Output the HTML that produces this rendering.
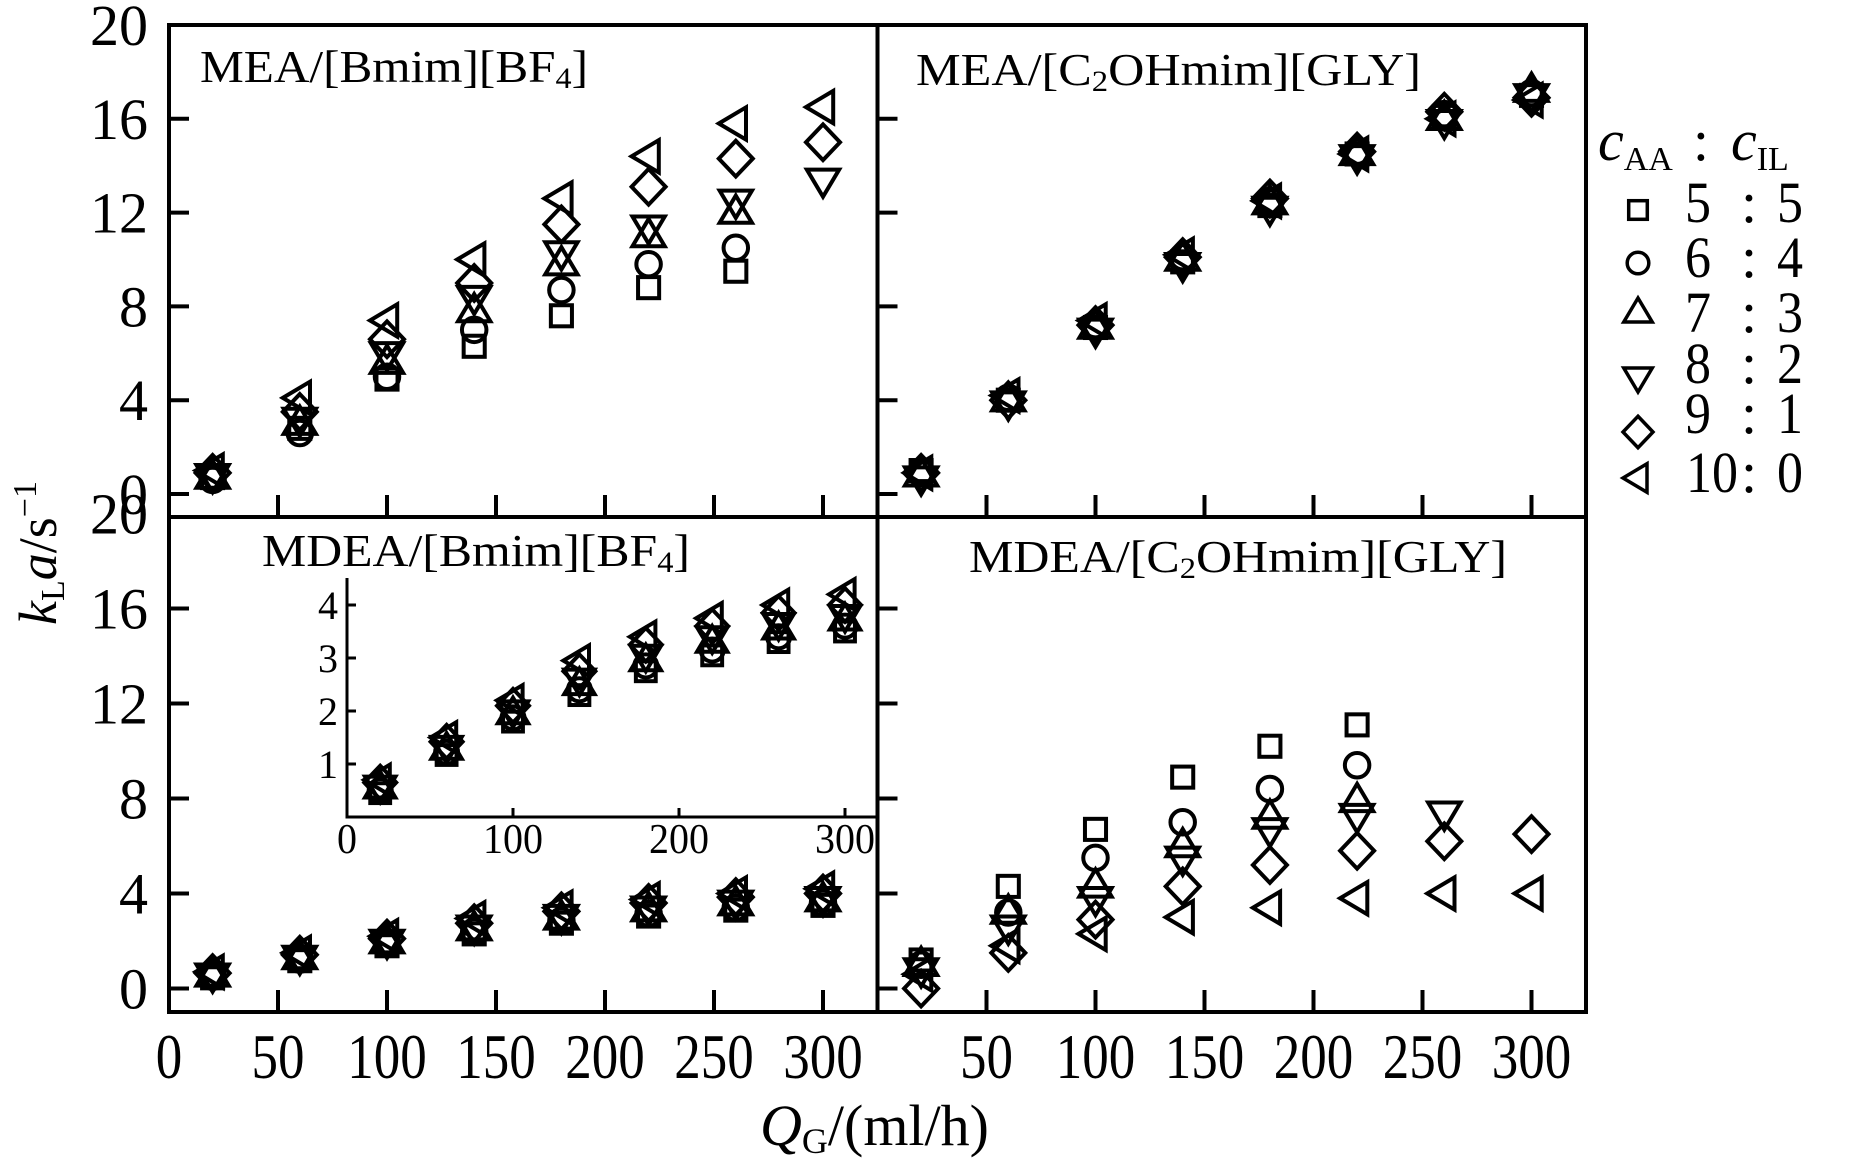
<!DOCTYPE html>
<html><head><meta charset="utf-8"><style>
html,body{margin:0;padding:0;background:#fff}
svg{display:block}
text{font-family:"Liberation Serif",serif;fill:#000}
</style></head><body>
<svg id="chart" width="1849" height="1165" viewBox="0 0 1849 1165" xmlns="http://www.w3.org/2000/svg">
<rect width="1849" height="1165" fill="#fff"/>
<g id="marks"></g>
<g id="frame" fill="none" stroke="#000" stroke-width="4">
<rect x="169" y="25" width="1417" height="987"/>
<line x1="877.5" y1="25" x2="877.5" y2="1012"/>
<line x1="169" y1="517" x2="1586" y2="517"/>
</g>
<g id="labels">
<text x="200" y="82" font-size="46" textLength="388" lengthAdjust="spacingAndGlyphs">MEA/[Bmim][BF<tspan font-size="30" dy="6">4</tspan><tspan dy="-6">]</tspan></text>
<text x="916" y="85" font-size="46" textLength="505" lengthAdjust="spacingAndGlyphs">MEA/[C<tspan font-size="30" dy="6">2</tspan><tspan dy="-6">OHmim][GLY]</tspan></text>
<text x="262" y="566" font-size="46" textLength="428" lengthAdjust="spacingAndGlyphs">MDEA/[Bmim][BF<tspan font-size="30" dy="6">4</tspan><tspan dy="-6">]</tspan></text>
<text x="969" y="572" font-size="46" textLength="538" lengthAdjust="spacingAndGlyphs">MDEA/[C<tspan font-size="30" dy="6">2</tspan><tspan dy="-6">OHmim][GLY]</tspan></text>
<text transform="translate(56,625) rotate(-90)" font-size="54"><tspan font-style="italic">k</tspan><tspan font-size="34" dy="8">L</tspan><tspan dy="-8" font-style="italic">a</tspan><tspan>/s</tspan><tspan font-size="34" dy="-20">−1</tspan></text>
<text x="760" y="1145" font-size="58"><tspan font-style="italic">Q</tspan><tspan font-size="36" dy="8">G</tspan><tspan dy="-8">/(ml/h)</tspan></text>
</g>
<g id="legend"></g>
</svg>
<script>
const xValues = [20, 60, 100, 140, 180, 220, 260, 300];
const seriesNames = ['5:5', '6:4', '7:3', '8:2', '9:1', '10:0'];
const markerTypes = ['square', 'circle', 'up', 'down', 'diamond', 'left'];
const yTicks = [0, 4, 8, 12, 16, 20];
const xTicks = [50, 100, 150, 200, 250, 300];
const insetXTicks = [100, 200, 300];
const insetYTicks = [1, 2, 3, 4];
// MEA/[Bmim][BF4]
const meaBmimSq = [0.7, 2.8, 4.9, 6.3, 7.6, 8.8, 9.5, null];
const meaBmimCi = [0.6, 2.6, 5.0, 7.0, 8.7, 9.8, 10.5, null];
const meaBmimUp = [0.7, 3.0, 5.6, 7.8, 9.8, 11.0, 12.0, null];
const meaBmimDown = [0.8, 3.2, 6.0, 8.4, 10.3, 11.4, 12.5, 13.4];
const meaBmimDia = [0.9, 3.5, 6.6, 9.0, 11.5, 13.1, 14.3, 15.0];
const meaBmimLeft = [1.0, 4.1, 7.4, 10.0, 12.6, 14.4, 15.8, 16.5];
// MEA/[C2OHmim][GLY]
const meaGlySq = [1.0, 4.0, 7.1, 9.9, 12.3, 14.5, 16.1, 17.0];
const meaGlyCi = [0.9, 4.1, 7.2, 10.1, 12.5, 14.6, 16.2, 17.1];
const meaGlyUp = [0.8, 4.0, 7.1, 10.0, 12.4, 14.5, 16.0, 17.2];
const meaGlyDown = [0.7, 3.9, 7.0, 9.8, 12.2, 14.4, 15.9, 17.0];
const meaGlyDia = [0.9, 4.0, 7.2, 10.1, 12.6, 14.6, 16.3, 16.9];
const meaGlyLeft = [0.9, 4.2, 7.4, 10.2, 12.5, 14.5, 16.0, 16.8];
// MDEA/[Bmim][BF4]
const mdeaBmimSq = [0.45, 1.17, 1.8, 2.3, 2.75, 3.05, 3.3, 3.5];
const mdeaBmimCi = [0.5, 1.22, 1.87, 2.4, 2.85, 3.15, 3.4, 3.6];
const mdeaBmimUp = [0.55, 1.28, 1.95, 2.5, 2.95, 3.3, 3.55, 3.72];
const mdeaBmimDown = [0.58, 1.33, 2.0, 2.6, 3.05, 3.4, 3.65, 3.8];
const mdeaBmimDia = [0.65, 1.42, 2.1, 2.75, 3.25, 3.6, 3.85, 4.0];
const mdeaBmimLeft = [0.7, 1.5, 2.2, 2.95, 3.4, 3.75, 4.0, 4.2];
// MDEA/[C2OHmim][GLY]
const mdeaGlySq = [1.2, 4.3, 6.7, 8.9, 10.2, 11.1, null, null];
const mdeaGlyCi = [1.0, 3.2, 5.5, 7.0, 8.4, 9.4, null, null];
const mdeaGlyUp = [1.0, 3.2, 4.3, 6.0, 7.2, 7.9, null, null];
const mdeaGlyDown = [0.8, 2.6, 3.8, 5.5, 6.7, 7.3, 7.4, null];
const mdeaGlyDia = [0.0, 1.5, 2.9, 4.3, 5.2, 5.8, 6.2, 6.5];
const mdeaGlyLeft = [0.6, 1.8, 2.3, 3.0, 3.4, 3.8, 4.0, 4.0];

const NS = 'http://www.w3.org/2000/svg';
const marks = document.getElementById('marks');
const legend = document.getElementById('legend');
const labels = document.getElementById('labels');

function mk(tag, attrs, parent) {
  const e = document.createElementNS(NS, tag);
  for (const k in attrs) e.setAttribute(k, attrs[k]);
  parent.appendChild(e);
  return e;
}
function marker(type, cx, cy, s, parent, sw) {
  const st = {fill: 'none', stroke: '#000', 'stroke-width': sw};
  let e;
  if (type === 'square') e = mk('rect', Object.assign({x: cx - s * 0.62, y: cy - s * 0.62, width: s * 1.24, height: s * 1.24}, st), parent);
  else if (type === 'circle') e = mk('circle', Object.assign({cx: cx, cy: cy, r: s * 0.72}, st), parent);
  else {
    let p;
    const r = s;
    if (type === 'up') p = [[cx, cy - r], [cx + r * 0.95, cy + r * 0.6], [cx - r * 0.95, cy + r * 0.6]];
    else if (type === 'down') p = [[cx, cy + r], [cx + r * 0.95, cy - r * 0.6], [cx - r * 0.95, cy - r * 0.6]];
    else if (type === 'left') p = [[cx - r, cy], [cx + r * 0.6, cy - r * 0.95], [cx + r * 0.6, cy + r * 0.95]];
    else p = [[cx, cy - r * 1.05], [cx + r * 1.0, cy], [cx, cy + r * 1.05], [cx - r * 1.0, cy]];
    e = mk('polygon', Object.assign({points: p.map(q => q.join(',')).join(' ')}, st), parent);
  }
  return e;
}
function txt(s, x, y, size, anchor, parent, len) {
  const t = mk('text', {x: x, y: y, 'font-size': size, 'text-anchor': anchor}, parent);
  if (len) { t.setAttribute('textLength', len); t.setAttribute('lengthAdjust', 'spacingAndGlyphs'); }
  t.textContent = s;
  return t;
}

const panels = [
  {x0: 169, zeroY: 494, ky: 23.45, series: [meaBmimSq, meaBmimCi, meaBmimUp, meaBmimDown, meaBmimDia, meaBmimLeft], name: 'mea-bmim'},
  {x0: 877.5, zeroY: 494, ky: 23.45, series: [meaGlySq, meaGlyCi, meaGlyUp, meaGlyDown, meaGlyDia, meaGlyLeft], name: 'mea-c2ohmim'},
  {x0: 169, zeroY: 988.5, ky: 23.75, series: [mdeaBmimSq, mdeaBmimCi, mdeaBmimUp, mdeaBmimDown, mdeaBmimDia, mdeaBmimLeft], name: 'mdea-bmim'},
  {x0: 877.5, zeroY: 988.5, ky: 23.75, series: [mdeaGlySq, mdeaGlyCi, mdeaGlyUp, mdeaGlyDown, mdeaGlyDia, mdeaGlyLeft], name: 'mdea-c2ohmim'}
];
const KX = 2.18;
const ticks = mk('g', {stroke: '#000', 'stroke-width': 4}, marks);


panels.forEach((P, pi) => {
  const xs = v => P.x0 + v * KX;
  const ys = v => P.zeroY - v * P.ky;
  const bottom = pi < 2 ? 517 : 1012;
  yTicks.forEach(v => {
    if (v === 20 && pi >= 2) return;
    mk('line', {x1: P.x0, y1: ys(v), x2: P.x0 + 20, y2: ys(v)}, ticks);
  });
  xTicks.forEach(v => mk('line', {x1: xs(v), y1: bottom, x2: xs(v), y2: bottom - 22}, ticks));
  if (pi === 0 || pi === 2) {
    yTicks.forEach(v => {
      const t = txt(String(v), 148, ys(v) + 20, 58, 'end', labels, v >= 10 ? 58 : 29);
      
      
    });
  }
  if (pi >= 2) {
    const xl = pi === 2 ? [0].concat(xTicks) : xTicks;
    xl.forEach(v => {
      const s = String(v);
      const t = txt(s, xs(v), 1078, 64, 'middle', labels, s.length * 26.5);
      
      
    });
  }
  const g = mk('g', {}, marks);
  
  
  P.series.forEach((arr, si) => {
    arr.forEach((v, i) => {
      if (v === null) return;
      const m = marker(markerTypes[si], xs(xValues[i]), ys(v), 17, g, 4);
      
      
    });
  });
});

// inset
const IX0 = 347, IY0 = 817, IKX = 1.66, IKY = 53;
const inset = mk('g', {}, marks);


const ix = v => IX0 + v * IKX;
const iy = v => IY0 - v * IKY;
const insetAxes = mk('path', {d: 'M' + IX0 + ',578 L' + IX0 + ',' + IY0 + ' L877,' + IY0, fill: 'none', stroke: '#000', 'stroke-width': 3}, inset);


insetYTicks.forEach(v => {
  mk('line', {x1: IX0, y1: iy(v), x2: IX0 + 9, y2: iy(v), stroke: '#000', 'stroke-width': 3}, inset);
  const t = txt(String(v), 338, iy(v) + 14, 40, 'end', inset, 20);
  
  
});
insetXTicks.forEach(v => {
  mk('line', {x1: ix(v), y1: IY0, x2: ix(v), y2: IY0 - 9, stroke: '#000', 'stroke-width': 3}, inset);
});
[0, 100, 200, 300].forEach(v => {
  const s = String(v);
  const t = txt(s, ix(v), 853, 42, 'middle', inset, s.length * 20);
  
  
});
[mdeaBmimSq, mdeaBmimCi, mdeaBmimUp, mdeaBmimDown, mdeaBmimDia, mdeaBmimLeft].forEach((arr, si) => {
  arr.forEach((v, i) => {
    const m = marker(markerTypes[si], ix(xValues[i]), iy(v), 16, inset, 4);
    
    
  });
});

// legend
const head = mk('text', {x: 1598, y: 160, 'font-size': 58}, legend);


head.innerHTML = '<tspan font-style="italic">c</tspan><tspan font-size="34" dy="10">AA</tspan><tspan dy="-10" dx="20">:</tspan><tspan dx="22" font-style="italic">c</tspan><tspan font-size="34" dy="10">IL</tspan>';
const legCenters = [210, 263, 313, 377, 432, 478];
const legBase = [222, 277, 332, 383, 433, 492];
const leftNums = ['5', '6', '7', '8', '9', '10'];
const rightNums = ['5', '4', '3', '2', '1', '0'];
markerTypes.forEach((t, i) => {
  const row = mk('g', {}, legend);
  
  
  marker(t, 1638, legCenters[i], 15, row, 3.5);
  txt(leftNums[i], leftNums[i].length > 1 ? 1712 : 1698, legBase[i], 58, 'middle', row, leftNums[i].length * 26);
  txt(':', 1749, legBase[i], 58, 'middle', row);
  txt(rightNums[i], 1790, legBase[i], 58, 'middle', row, 26);
});
</script>
</body></html>
